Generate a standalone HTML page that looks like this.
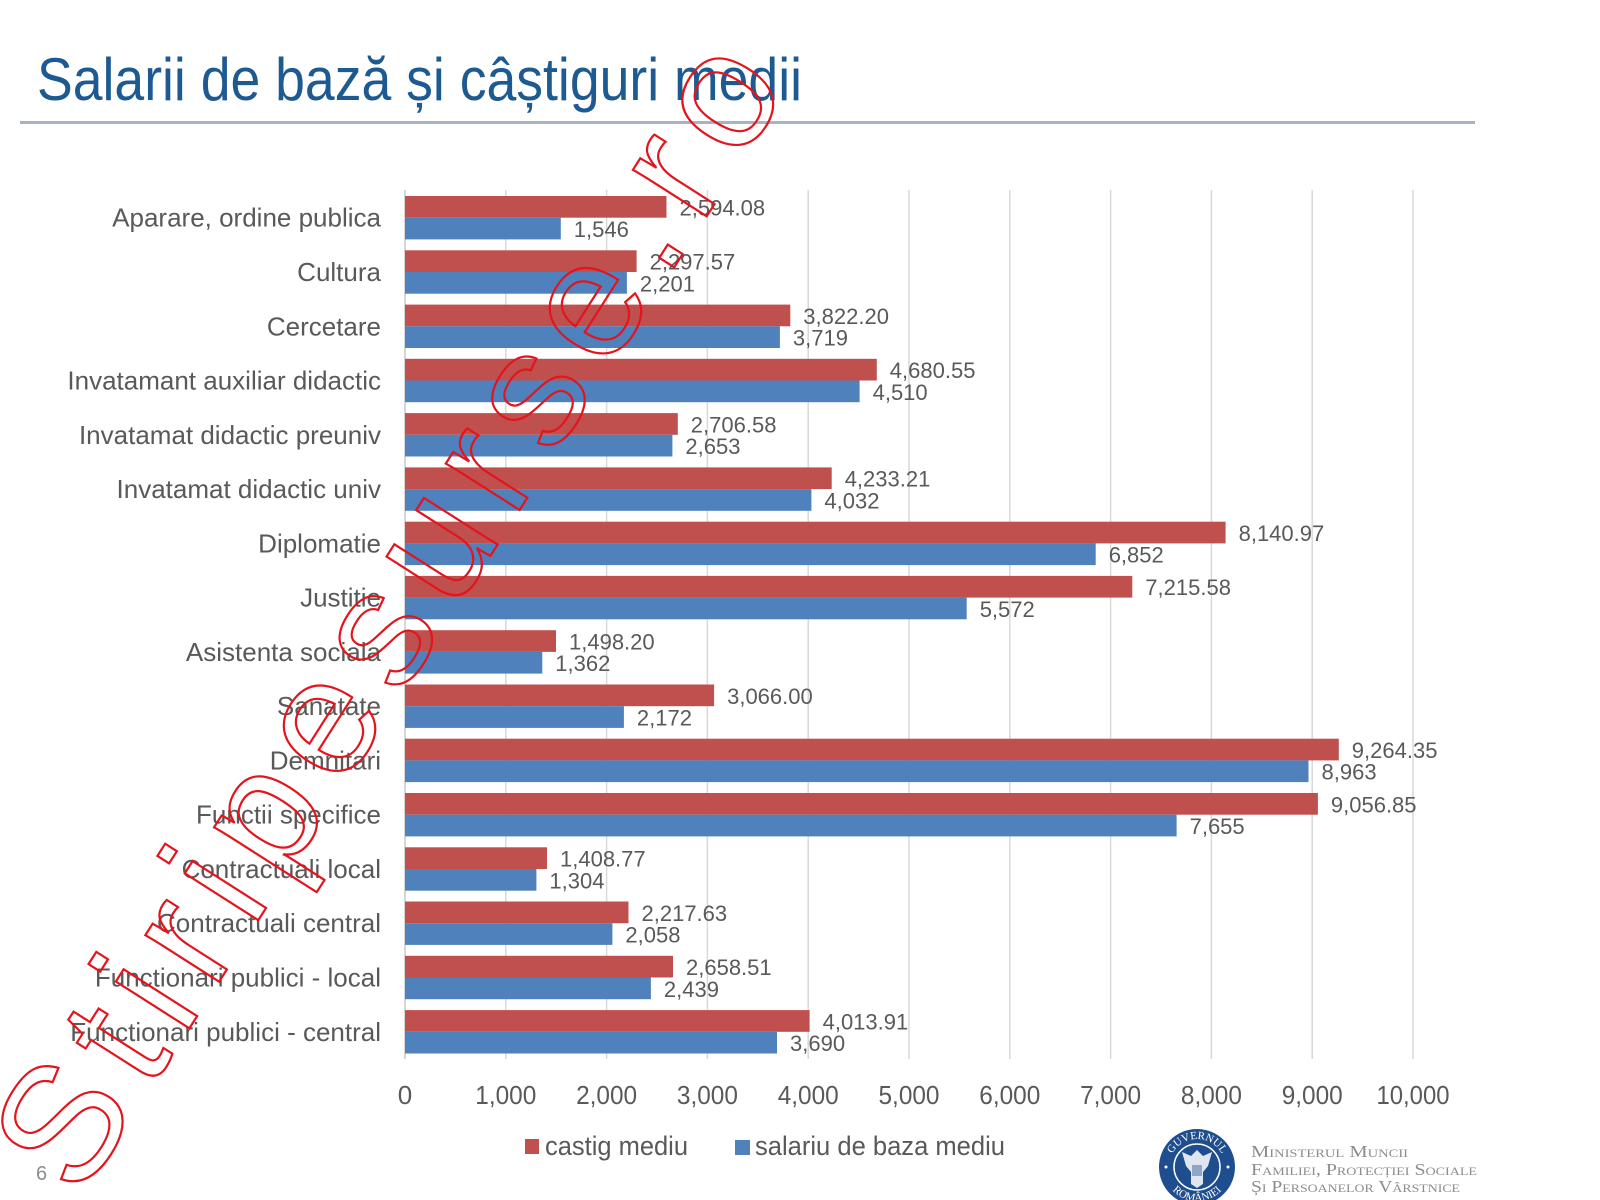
<!DOCTYPE html>
<html>
<head>
<meta charset="utf-8">
<style>
html,body{margin:0;padding:0;background:#fff;}
svg{display:block;}
.cat{font-family:"Liberation Sans",sans-serif;font-size:26px;fill:#595959;text-anchor:end;}
.val{font-family:"Liberation Sans",sans-serif;font-size:22px;fill:#595959;}
.tick{font-family:"Liberation Sans",sans-serif;font-size:26px;fill:#595959;text-anchor:middle;}
.leg{font-family:"Liberation Sans",sans-serif;font-size:27px;fill:#595959;}
.min{font-family:"Liberation Serif",serif;font-size:17px;fill:#8c8c8c;font-variant:small-caps;}
</style>
</head>
<body>
<svg width="1600" height="1200" viewBox="0 0 1600 1200" xmlns="http://www.w3.org/2000/svg">
<rect width="1600" height="1200" fill="#ffffff"/>

<!-- Title -->
<text x="37" y="100" font-family="Liberation Sans, sans-serif" font-size="60" fill="#1d5a92" textLength="765" lengthAdjust="spacingAndGlyphs">Salarii de bază și câștiguri medii</text>
<rect x="20" y="121" width="1455" height="3" fill="#a7b3c0"/>

<!-- Gridlines -->
<g stroke="#d9d9d9" stroke-width="1.5">
<line x1="505.8" y1="190" x2="505.8" y2="1059"/>
<line x1="606.6" y1="190" x2="606.6" y2="1059"/>
<line x1="707.4" y1="190" x2="707.4" y2="1059"/>
<line x1="808.2" y1="190" x2="808.2" y2="1059"/>
<line x1="909" y1="190" x2="909" y2="1059"/>
<line x1="1009.8" y1="190" x2="1009.8" y2="1059"/>
<line x1="1110.6" y1="190" x2="1110.6" y2="1059"/>
<line x1="1211.4" y1="190" x2="1211.4" y2="1059"/>
<line x1="1312.2" y1="190" x2="1312.2" y2="1059"/>
<line x1="1413" y1="190" x2="1413" y2="1059"/>
</g>
<line x1="405" y1="190" x2="405" y2="1059" stroke="#c8c8c8" stroke-width="1.5"/>

<!-- Bars -->
<g fill="#c0504d">
<rect x="405" y="196.0" width="261.5" height="21.7"/>
<rect x="405" y="250.3" width="231.6" height="21.7"/>
<rect x="405" y="304.6" width="385.3" height="21.7"/>
<rect x="405" y="358.8" width="471.8" height="21.7"/>
<rect x="405" y="413.1" width="272.8" height="21.7"/>
<rect x="405" y="467.4" width="426.7" height="21.7"/>
<rect x="405" y="521.7" width="820.6" height="21.7"/>
<rect x="405" y="575.9" width="727.3" height="21.7"/>
<rect x="405" y="630.2" width="151.0" height="21.7"/>
<rect x="405" y="684.5" width="309.1" height="21.7"/>
<rect x="405" y="738.7" width="933.8" height="21.7"/>
<rect x="405" y="793.0" width="912.9" height="21.7"/>
<rect x="405" y="847.3" width="142.0" height="21.7"/>
<rect x="405" y="901.5" width="223.5" height="21.7"/>
<rect x="405" y="955.8" width="268.0" height="21.7"/>
<rect x="405" y="1010.1" width="404.6" height="21.7"/>
</g>
<g fill="#4f81bd">
<rect x="405" y="217.7" width="155.8" height="21.7"/>
<rect x="405" y="272.0" width="221.9" height="21.7"/>
<rect x="405" y="326.3" width="374.9" height="21.7"/>
<rect x="405" y="380.5" width="454.6" height="21.7"/>
<rect x="405" y="434.8" width="267.4" height="21.7"/>
<rect x="405" y="489.1" width="406.4" height="21.7"/>
<rect x="405" y="543.4" width="690.7" height="21.7"/>
<rect x="405" y="597.6" width="561.7" height="21.7"/>
<rect x="405" y="651.9" width="137.3" height="21.7"/>
<rect x="405" y="706.2" width="218.9" height="21.7"/>
<rect x="405" y="760.4" width="903.5" height="21.7"/>
<rect x="405" y="814.7" width="771.6" height="21.7"/>
<rect x="405" y="869.0" width="131.4" height="21.7"/>
<rect x="405" y="923.2" width="207.4" height="21.7"/>
<rect x="405" y="977.5" width="245.9" height="21.7"/>
<rect x="405" y="1031.8" width="372.0" height="21.7"/>
</g>

<!-- Category labels -->
<text class="cat" x="381" y="226.7">Aparare, ordine publica</text>
<text class="cat" x="381" y="281.0">Cultura</text>
<text class="cat" x="381" y="335.3">Cercetare</text>
<text class="cat" x="381" y="389.5">Invatamant auxiliar didactic</text>
<text class="cat" x="381" y="443.8">Invatamat didactic preuniv</text>
<text class="cat" x="381" y="498.1">Invatamat didactic univ</text>
<text class="cat" x="381" y="552.4">Diplomatie</text>
<text class="cat" x="381" y="606.6">Justitie</text>
<text class="cat" x="381" y="660.9">Asistenta sociala</text>
<text class="cat" x="381" y="715.2">Sanatate</text>
<text class="cat" x="381" y="769.4">Demnitari</text>
<text class="cat" x="381" y="823.7">Functii specifice</text>
<text class="cat" x="381" y="878.0">Contractuali local</text>
<text class="cat" x="381" y="932.2">Contractuali central</text>
<text class="cat" x="381" y="986.5">Functionari publici - local</text>
<text class="cat" x="381" y="1040.8">Functionari publici - central</text>

<!-- Value labels red -->
<text class="val" x="679.5" y="215.3">2,594.08</text>
<text class="val" x="649.6" y="269.6">2,297.57</text>
<text class="val" x="803.3" y="323.9">3,822.20</text>
<text class="val" x="889.8" y="378.1">4,680.55</text>
<text class="val" x="690.8" y="432.4">2,706.58</text>
<text class="val" x="844.7" y="486.7">4,233.21</text>
<text class="val" x="1238.6" y="541.0">8,140.97</text>
<text class="val" x="1145.3" y="595.2">7,215.58</text>
<text class="val" x="569.0" y="649.5">1,498.20</text>
<text class="val" x="727.1" y="703.8">3,066.00</text>
<text class="val" x="1351.8" y="758.0">9,264.35</text>
<text class="val" x="1330.9" y="812.3">9,056.85</text>
<text class="val" x="560.0" y="866.6">1,408.77</text>
<text class="val" x="641.5" y="920.8">2,217.63</text>
<text class="val" x="686.0" y="975.1">2,658.51</text>
<text class="val" x="822.6" y="1029.4">4,013.91</text>

<!-- Value labels blue -->
<text class="val" x="573.8" y="237.0">1,546</text>
<text class="val" x="639.9" y="291.3">2,201</text>
<text class="val" x="792.9" y="345.6">3,719</text>
<text class="val" x="872.6" y="399.8">4,510</text>
<text class="val" x="685.4" y="454.1">2,653</text>
<text class="val" x="824.4" y="508.4">4,032</text>
<text class="val" x="1108.7" y="562.7">6,852</text>
<text class="val" x="979.7" y="616.9">5,572</text>
<text class="val" x="555.3" y="671.2">1,362</text>
<text class="val" x="636.9" y="725.5">2,172</text>
<text class="val" x="1321.5" y="779.7">8,963</text>
<text class="val" x="1189.6" y="834.0">7,655</text>
<text class="val" x="549.4" y="888.3">1,304</text>
<text class="val" x="625.4" y="942.5">2,058</text>
<text class="val" x="663.9" y="996.8">2,439</text>
<text class="val" x="790.0" y="1051.1">3,690</text>

<!-- Axis ticks -->
<text class="tick" x="405" y="1104">0</text>
<text class="tick" x="505.8" y="1104" textLength="61" lengthAdjust="spacingAndGlyphs">1,000</text>
<text class="tick" x="606.6" y="1104" textLength="61" lengthAdjust="spacingAndGlyphs">2,000</text>
<text class="tick" x="707.4" y="1104" textLength="61" lengthAdjust="spacingAndGlyphs">3,000</text>
<text class="tick" x="808.2" y="1104" textLength="61" lengthAdjust="spacingAndGlyphs">4,000</text>
<text class="tick" x="909" y="1104" textLength="61" lengthAdjust="spacingAndGlyphs">5,000</text>
<text class="tick" x="1009.8" y="1104" textLength="61" lengthAdjust="spacingAndGlyphs">6,000</text>
<text class="tick" x="1110.6" y="1104" textLength="61" lengthAdjust="spacingAndGlyphs">7,000</text>
<text class="tick" x="1211.4" y="1104" textLength="61" lengthAdjust="spacingAndGlyphs">8,000</text>
<text class="tick" x="1312.2" y="1104" textLength="61" lengthAdjust="spacingAndGlyphs">9,000</text>
<text class="tick" x="1413" y="1104" textLength="73" lengthAdjust="spacingAndGlyphs">10,000</text>

<!-- Legend -->
<rect x="525" y="1139" width="14" height="15" fill="#c0504d"/>
<text class="leg" x="545" y="1155" textLength="143" lengthAdjust="spacingAndGlyphs">castig mediu</text>
<rect x="735" y="1140" width="15" height="15" fill="#4f81bd"/>
<text class="leg" x="755" y="1155" textLength="250" lengthAdjust="spacingAndGlyphs">salariu de baza mediu</text>

<!-- Page number -->
<text x="36" y="1180" font-family="Liberation Sans, sans-serif" font-size="20" fill="#8c8c8c">6</text>

<!-- Logo -->
<defs>
<path id="arcTop" d="M 1169 1167 A 28 28 0 0 1 1225 1167"/>
<path id="arcBot" d="M 1163 1167 A 34 34 0 0 0 1231 1167"/>
</defs>
<circle cx="1197" cy="1167" r="38" fill="#1f4e8f"/>
<circle cx="1197" cy="1167" r="23" fill="none" stroke="#ffffff" stroke-width="1.5"/>
<text font-family="Liberation Serif, serif" font-size="11" fill="#ffffff"><textPath href="#arcTop" startOffset="50%" text-anchor="middle">GUVERNUL</textPath></text>
<text font-family="Liberation Serif, serif" font-size="11" fill="#ffffff"><textPath href="#arcBot" startOffset="50%" text-anchor="middle">ROMÂNIEI</textPath></text>
<path d="M1197 1150 L1203 1156 L1212 1152 L1208 1166 L1203 1172 L1203 1184 L1197 1188 L1191 1184 L1191 1172 L1186 1166 L1182 1152 L1191 1156 Z" fill="#dfe6f0"/>
<rect x="1192" y="1165" width="10" height="11" fill="#8fa6c6"/>
<circle cx="1166" cy="1167" r="1.5" fill="#fff"/>
<circle cx="1228" cy="1167" r="1.5" fill="#fff"/>

<!-- Ministry text -->
<text class="min" x="1251" y="1157" textLength="157" lengthAdjust="spacingAndGlyphs">Ministerul Muncii</text>
<text class="min" x="1251" y="1175" textLength="226" lengthAdjust="spacingAndGlyphs">Familiei, Protecției Sociale</text>
<text class="min" x="1251" y="1192" textLength="209" lengthAdjust="spacingAndGlyphs">Și Persoanelor Vârstnice</text>

<!-- Watermark -->
<text transform="translate(80,1200) rotate(-57.5)" font-family="Liberation Sans, sans-serif" font-size="165" fill="none" stroke="#e3141c" stroke-width="2.2" textLength="1320">Stiripesurse.ro</text>
</svg>
</body>
</html>
